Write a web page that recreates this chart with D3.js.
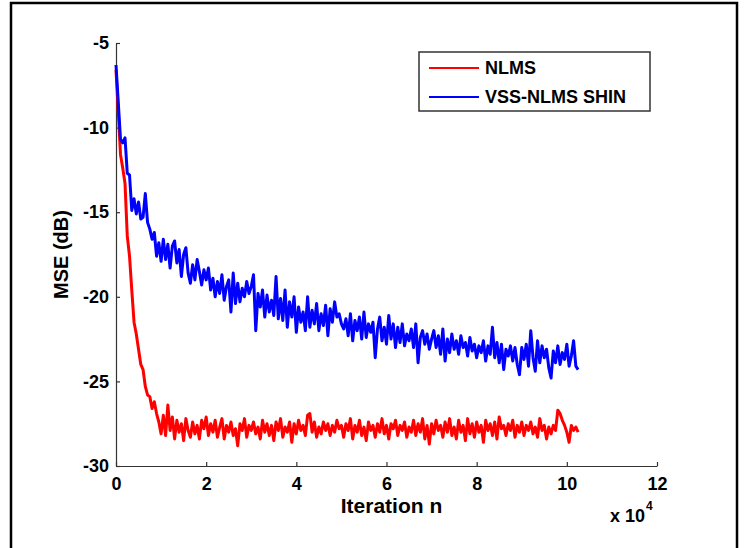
<!DOCTYPE html>
<html>
<head>
<meta charset="utf-8">
<script src="https://cdn.jsdelivr.net/npm/d3@7"></script>
<style>
  body { margin: 0; background: #fff; }
  text { font-family: "Liberation Sans", Arial, sans-serif; font-weight: bold; }
</style>
</head>
<body>
<div id="chart"></div>
<script>
// Iterations are sampled every 500 steps, starting at 0
const iterStep = 500;

// NLMS mean square error (dB)
const nlms = [
  -6.6, -9.0, -11.6, -12.4, -13.3, -16.4, -17.6, -19.6, -21.5, -22.2,
  -23.1, -24.0, -24.3, -25.3, -25.8, -25.9, -26.6, -26.2, -26.9, -27.4,
  -28.1, -27.0, -28.2, -26.4, -27.9, -27.1, -28.4, -27.3, -28.0, -27.5,
  -28.5, -27.2, -27.9, -28.3, -27.4, -28.1, -27.6, -28.4, -27.3, -27.8,
  -27.1, -28.2, -27.5, -28.0, -27.3, -28.3, -27.7, -27.2, -28.4, -27.6,
  -28.0, -27.4, -28.2, -27.8, -28.8, -27.5, -27.9, -27.2, -28.3, -27.6,
  -27.9, -27.4, -28.1, -27.7, -28.4, -27.3, -28.0, -27.5, -28.2, -27.6,
  -28.5, -27.4, -27.9, -27.2, -28.3, -27.7, -28.0, -27.4, -28.6, -27.5,
  -28.1, -27.3, -27.9, -27.6, -28.2, -27.0, -26.9, -28.0, -27.4, -28.3,
  -27.7, -28.1, -27.4, -27.9, -27.5, -28.2, -27.6, -28.0, -27.3, -27.8,
  -27.6, -28.3, -27.5, -27.9, -27.2, -28.4, -27.6, -28.0, -27.3, -28.2,
  -27.7, -28.5, -27.4, -27.9, -27.6, -28.3, -27.5, -28.0, -27.2, -28.1,
  -27.6, -28.4, -27.5, -27.8, -27.3, -28.2, -27.6, -27.9, -27.4, -28.3,
  -27.7, -28.0, -27.3, -28.2, -27.5, -28.0, -27.2, -28.4, -27.6, -28.7,
  -27.5, -28.1, -27.3, -27.9, -27.6, -28.3, -27.4, -28.0, -27.2, -28.2,
  -27.7, -28.4, -27.3, -28.0, -27.6, -28.5, -27.2, -28.1, -27.5, -28.3,
  -27.4, -28.0, -27.6, -28.6, -27.3, -27.9, -27.5, -28.2, -27.4, -28.4,
  -27.1, -27.8, -27.6, -28.2, -27.5, -27.9, -27.3, -28.3, -27.6, -28.0,
  -27.4, -28.2, -27.6, -27.9, -27.4, -28.1, -27.7, -28.3, -27.2, -27.9,
  -27.6, -28.4, -27.7, -28.1, -27.6, -27.9, -26.7, -26.9, -27.3, -27.6,
  -28.0, -28.6, -27.6, -27.9, -27.7, -28.0
];

// VSS-NLMS SHIN mean square error (dB)
const vssShin = [
  -6.3, -8.5, -10.7, -10.9, -10.6, -12.7, -12.8, -14.9, -14.2, -15.1,
  -14.4, -15.4, -15.3, -13.9, -15.6, -16.0, -16.6, -16.2, -17.6, -16.8,
  -17.9, -16.6, -17.8, -16.9, -18.3, -17.0, -16.7, -18.0, -17.2, -18.8,
  -17.5, -17.1, -18.6, -19.2, -18.1, -19.0, -17.8, -18.5, -19.3, -18.4,
  -19.0, -18.3, -19.6, -18.9, -20.0, -19.1, -19.8, -18.7, -20.2, -19.4,
  -19.0, -20.9, -18.6, -20.4, -19.2, -20.3, -19.5, -20.0, -19.1, -19.8,
  -19.4, -18.7, -22.0, -19.8, -20.6, -19.6, -21.2, -19.9, -20.9, -20.2,
  -21.1, -18.8, -21.3, -20.1, -21.4, -19.6, -21.8, -20.3, -21.2, -20.0,
  -22.1, -20.6, -21.5, -20.9, -22.0, -20.0, -21.8, -20.8, -21.6, -20.4,
  -22.0, -21.0, -21.7, -20.5, -22.3, -20.7, -21.5, -20.3, -21.2, -21.0,
  -21.6, -21.9, -21.3, -22.3, -21.0, -22.6, -21.4, -22.0, -21.2, -22.5,
  -20.9, -22.4, -21.6, -22.1, -21.5, -23.6, -21.9, -21.2, -22.6, -21.8,
  -22.8, -21.1, -22.5, -21.6, -23.0, -21.8, -22.7, -21.6, -22.9, -22.2,
  -22.6, -21.9, -23.0, -21.6, -23.9, -22.4, -22.0, -22.8, -22.2, -23.1,
  -22.5, -22.0, -23.0, -22.3, -23.4, -21.9, -23.8, -22.5, -23.3, -22.2,
  -23.1, -22.6, -23.4, -22.3, -23.0, -22.7, -23.5, -22.4, -23.2, -22.8,
  -23.6, -22.9, -23.3, -22.6, -23.8, -22.9, -23.4, -21.8, -23.6, -22.7,
  -23.9, -22.8, -24.3, -23.1, -23.5, -22.9, -23.8, -23.0, -24.0, -24.6,
  -23.0, -23.7, -22.8, -24.1, -22.0, -23.6, -24.4, -22.6, -23.9, -22.9,
  -23.6, -23.1, -24.2, -24.8, -23.2, -23.9, -22.9, -24.0, -23.3, -23.7,
  -22.8, -24.1, -23.5, -22.6, -24.1, -24.3
];

// Axis ticks
const xTicks = [0, 20000, 40000, 60000, 80000, 100000, 120000];
const yTicks = [-30, -25, -20, -15, -10, -5];

// Legend entries
const seriesNames = ["NLMS", "VSS-NLMS SHIN"];
const seriesColors = ["#ff0000", "#0000ff"];

const W = 745, H = 548;
const plot = {left: 116, right: 657, top: 43, bottom: 466};

const svg = d3.select("#chart")
  .append("svg")
    .attr("width", W)
    .attr("height", H);

// Figure frame
svg.append("rect")
    .attr("x", 11)
    .attr("y", 3)
    .attr("width", 726)
    .attr("height", 570)
    .attr("fill", "none")
    .attr("stroke", "#000")
    .attr("stroke-width", 2.5);

const x = d3.scaleLinear()
    .domain([0, 120000])
    .range([plot.left, plot.right]);

const y = d3.scaleLinear()
    .domain([-30, -5])
    .range([plot.bottom, plot.top]);

// X axis, ticks pointing inward
const xAxis = svg.append("g")
    .attr("transform", `translate(0,${plot.bottom})`)
    .call(d3.axisBottom(x)
      .tickValues(xTicks)
      .tickSizeInner(-4)
      .tickSizeOuter(0)
      .tickPadding(11)
      .tickFormat(d => String(d / 10000)));

// Y axis, ticks pointing inward (plain hyphen for the minus sign)
const yAxis = svg.append("g")
    .attr("transform", `translate(${plot.left},0)`)
    .call(d3.axisLeft(y)
      .tickValues(yTicks)
      .tickSizeInner(-4)
      .tickSizeOuter(0)
      .tickPadding(7)
      .tickFormat(d => String(d)));

[xAxis, yAxis].forEach(g => {
  g.select(".domain").attr("stroke", "#333").attr("stroke-width", 1.2);
  g.selectAll(".tick line").attr("stroke", "#333").attr("stroke-width", 1.2);
  g.selectAll(".tick text")
    .attr("fill", "#000")
    .attr("font-weight", "bold")
    .style("font-size", "18px")
    .style("font-family", "'Liberation Sans', Arial, sans-serif")
    .style("font-weight", "bold");
});

// Lines
const line = d3.line()
    .x((d, i) => x(i * iterStep))
    .y(d => y(d));

[nlms, vssShin].forEach((series, k) => {
  svg.append("path")
      .datum(series)
      .attr("fill", "none")
      .attr("stroke", seriesColors[k])
      .attr("stroke-width", 3)
      .attr("stroke-linejoin", "round")
      .attr("d", line);
});

// Axis labels
svg.append("text")
    .attr("x", (plot.left + plot.right) / 2 + 5)
    .attr("y", 513)
    .attr("text-anchor", "middle")
    .style("font-size", "21px")
    .text("Iteration n");

svg.append("text")
    .attr("transform", `translate(68,${(plot.top + plot.bottom) / 2}) rotate(-90)`)
    .attr("text-anchor", "middle")
    .style("font-size", "20px")
    .text("MSE (dB)");

// Exponent label
const expo = svg.append("text")
    .attr("x", 610)
    .attr("y", 522)
    .style("font-size", "18px");
expo.append("tspan").text("x 10");
expo.append("tspan")
    .attr("dy", -12)
    .attr("dx", 1)
    .style("font-size", "12px")
    .text("4");

// Legend
const legend = svg.append("g");
legend.append("rect")
    .attr("x", 419)
    .attr("y", 52)
    .attr("width", 231)
    .attr("height", 59)
    .attr("fill", "#fff")
    .attr("stroke", "#333")
    .attr("stroke-width", 1.5);

seriesNames.forEach((name, i) => {
  const ly = 68 + i * 29;
  legend.append("line")
      .attr("x1", 429)
      .attr("x2", 479)
      .attr("y1", ly)
      .attr("y2", ly)
      .attr("stroke", seriesColors[i])
      .attr("stroke-width", 2.2);
  legend.append("text")
      .attr("x", 485)
      .attr("y", ly)
      .attr("dy", "0.36em")
      .style("font-size", "18px")
      .text(name);
});
</script>
</body>
</html>
